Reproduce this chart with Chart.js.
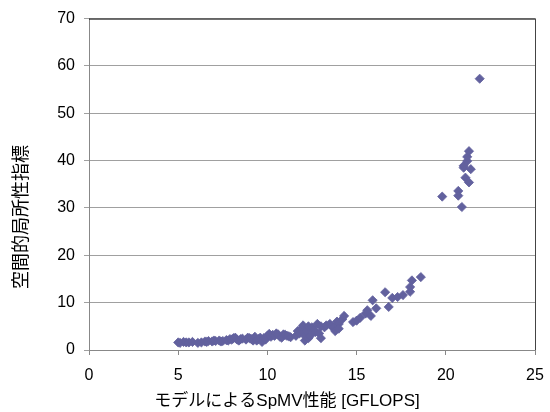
<!DOCTYPE html>
<html>
<head>
<meta charset="utf-8">
<script src="https://cdn.jsdelivr.net/npm/chart.js@4/dist/chart.umd.min.js"></script>
<style>
html,body{margin:0;padding:0;background:#fff;}
#wrap{width:550px;height:412px;position:relative;}
</style>
</head>
<body>
<div id="wrap"><canvas id="c" width="550" height="412"></canvas></div>
<script>
// X values: model SpMV performance [GFLOPS]
const perfX = [
  5.0,5.1,5.3,5.45,5.6,5.8,6.1,6.3,6.5,6.6,6.7,6.9,7.0,7.1,7.3,7.4,7.5,7.7,7.8,7.9,8.0,8.1,8.2,8.3,8.4,8.5,8.6,8.8,8.9,
  9.0,9.1,9.2,9.3,9.4,9.5,9.6,9.7,9.8,9.9,
  10.0,10.1,10.2,10.3,10.4,10.5,10.6,10.7,10.8,10.9,11.0,11.1,11.2,11.3,
  11.6,11.7,11.8,11.9,12.0,12.0,12.1,12.1,12.2,12.3,12.3,12.4,12.5,12.6,12.7,12.8,12.9,13.0,13.0,13.2,13.3,13.5,13.6,13.7,13.8,13.9,14.0,14.0,14.2,14.3,
  14.8,15.0,15.2,15.5,15.6,15.8,15.9,16.1,16.6,16.8,17.0,17.3,17.6,18.0,18.0,18.1,18.6,
  19.8,20.7,20.7,20.9,21.0,21.0,21.1,21.2,21.2,21.3,21.3,21.4,21.9
];
// Y values: spatial locality index
const localityY = [
  1.6,1.5,1.7,1.6,1.6,1.7,1.5,1.6,1.8,1.7,1.9,1.8,2.0,1.9,2.0,1.8,1.9,2.1,2.0,2.3,2.2,2.5,2.6,2.2,2.0,2.3,2.4,2.2,2.6,
  2.5,2.3,2.0,2.8,2.0,2.3,2.6,1.7,2.5,2.2,
  3.0,3.4,2.8,3.2,3.0,3.5,3.3,2.8,2.6,3.3,3.2,3.0,2.9,2.7,
  3.0,4.0,3.5,4.5,5.2,3.8,2.0,3.0,4.0,5.0,2.5,3.0,4.8,4.2,3.8,5.5,3.5,2.5,5.0,4.8,5.2,5.5,5.0,4.8,4.0,6.0,5.5,4.5,6.5,7.2,
  5.9,6.2,6.8,7.7,8.4,7.2,10.5,8.8,12.2,9.1,11.0,11.2,11.6,12.3,13.3,14.7,15.4,
  32.4,33.6,32.6,30.2,38.5,38.9,36.4,39.9,40.8,42.0,35.4,38.2,57.3
];
const xTicks = [0,5,10,15,20,25];
const yTicks = [0,10,20,30,40,50,60,70];
const xTitle = "モデルによるSpMV性能 [GFLOPS]";
const yTitle = "空間的局所性指標";

const FONT = "'Liberation Sans', 'Noto Sans CJK JP', sans-serif";
const points = perfX.map((x,i)=>({x:x, y:localityY[i]}));

const framePlugin = {
  id:'frame',
  afterDraw(chart){
    const a = chart.chartArea, ctx = chart.ctx;
    ctx.save();
    ctx.lineWidth = 1;
    ctx.strokeStyle = '#111';
    ctx.beginPath();
    ctx.moveTo(a.left, a.top+0.5); ctx.lineTo(a.right+0.5, a.top+0.5);
    ctx.stroke();
    ctx.strokeStyle = '#444';
    ctx.beginPath();
    ctx.moveTo(a.right+0.5, a.top); ctx.lineTo(a.right+0.5, a.bottom);
    ctx.stroke();
    // axis titles
    ctx.fillStyle = '#000';
    ctx.font = "17px " + FONT;
    ctx.textAlign = 'center';
    ctx.textBaseline = 'middle';
    ctx.fillText(xTitle, 287, 401);
    ctx.translate(22, 217);
    ctx.rotate(-Math.PI/2);
    ctx.font = "18px " + FONT;
    ctx.fillText(yTitle, 0, 0);
    ctx.restore();
  }
};

new Chart(document.getElementById('c'), {
  type:'scatter',
  data:{datasets:[{
    data: points,
    pointStyle:'rectRot',
    pointRadius:4.6,
    pointHoverRadius:4.6,
    backgroundColor:'#62619e',
    borderColor:'#62619e',
    borderWidth:0.8
  }]},
  options:{
    responsive:false,
    animation:false,
    events:[],
    layout:{padding:{top:17,right:0,left:0,bottom:0}},
    plugins:{legend:{display:false},tooltip:{enabled:false}},
    scales:{
      x:{
        type:'linear', min:0, max:25,
        afterBuildTicks(s){ s.ticks = xTicks.map(v=>({value:v})); },
        afterFit(s){ s.height = 62; s.paddingRight = 15; },
        grid:{drawOnChartArea:false, drawTicks:true, tickLength:5, color:'#888'},
        border:{color:'#888', width:1},
        ticks:{color:'#000', font:{size:16, family:FONT}, padding:11, maxRotation:0}
      },
      y:{
        type:'linear', min:0, max:70,
        afterBuildTicks(s){ s.ticks = yTicks.map(v=>({value:v})); },
        afterFit(s){ s.width = 89; },
        grid:{color:'#a0a0a0', drawTicks:true, tickLength:5},
        border:{color:'#888', width:1},
        ticks:{color:'#000', font:{size:16, family:FONT}, padding:9}
      }
    }
  },
  plugins:[framePlugin]
});
</script>
</body>
</html>
